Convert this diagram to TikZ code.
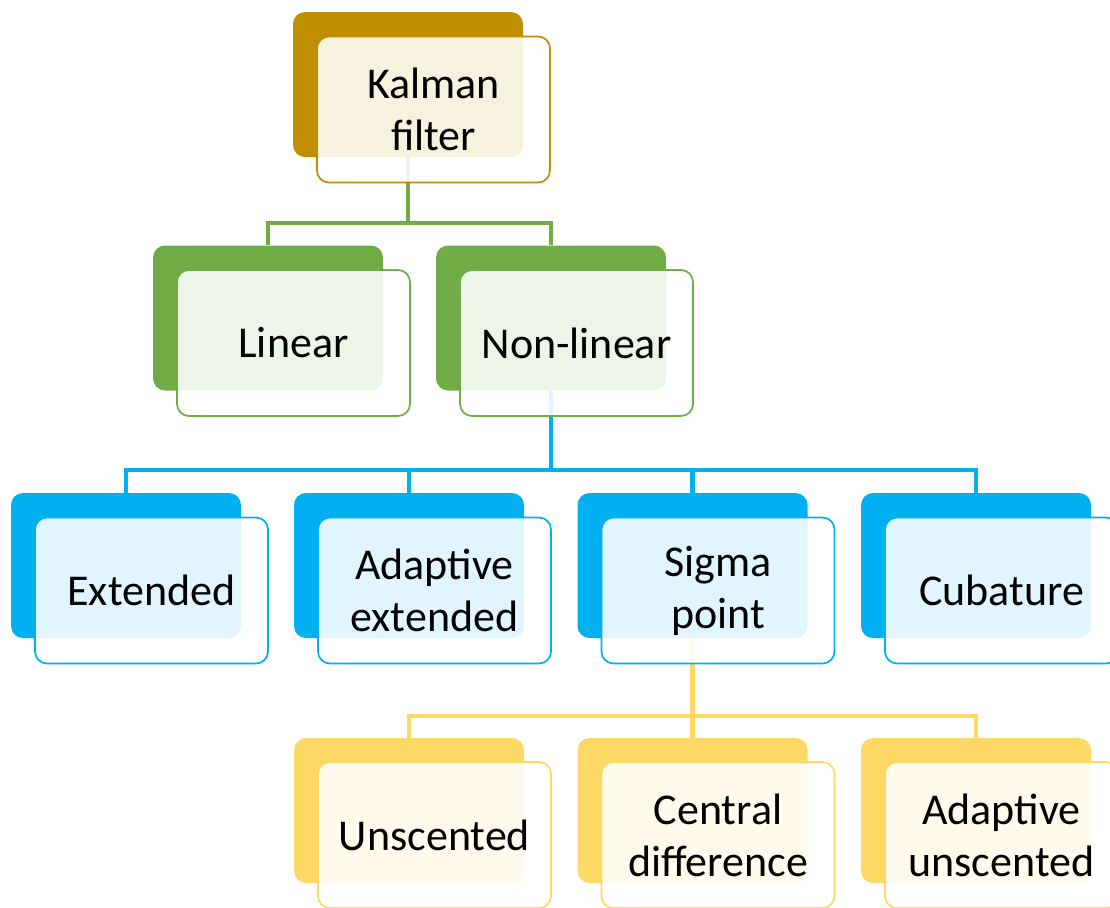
\documentclass[tikz,border=0pt]{standalone}
\usepackage{fontspec}
\setmainfont{Carlito}
\usetikzlibrary{backgrounds}
\definecolor{cgold}{HTML}{BF8F00}
\definecolor{cgreen}{HTML}{70AD47}
\definecolor{cblue}{HTML}{00B0F0}
\definecolor{cyellow}{HTML}{FFD966}
\tikzset{
  backbox/.style={draw=none, fill=#1, rounded corners=9pt, inner sep=0pt,
    minimum width=172.5pt, minimum height=108.75pt},
  frontbox/.style={draw=#1, line width=1.3pt, fill=white, fill opacity=0.88, text opacity=1,
    rounded corners=9pt, inner sep=0pt, minimum width=174.75pt, minimum height=109.5pt,
    align=center, font=\fontsize{33pt}{39pt}\selectfont, text=black},
  conn/.style={draw=#1, line width=3.6pt}
}
\begin{document}
\begin{tikzpicture}[x=0.75pt, y=-0.75pt]
\useasboundingbox (0,0) rectangle (1110,907);
% level 1
\node[backbox=cgold] (kb) at (408,84.5) {};
\node[frontbox=cgold] (kf) at (433.5,109.5) {Kalman\\filter};
% level 2
\node[backbox=cgreen] (lb) at (268,318) {};
\node[frontbox=cgreen] (lf) at (293.5,343) {Linear};
\node[backbox=cgreen] (nb) at (551,318) {};
\node[frontbox=cgreen] (nf) at (576.5,343) {Non-linear};
% level 3
\node[backbox=cblue] (eb) at (126,565.5) {};
\node[frontbox=cblue] (ef) at (151.5,590.5) {Extended};
\node[backbox=cblue] (ab) at (409,565.5) {};
\node[frontbox=cblue] (af) at (434.5,590.5) {Adaptive\\extended};
\node[backbox=cblue] (sb) at (692.5,565.5) {};
\node[frontbox=cblue] (sf) at (718,590.5) {Sigma\\point};
\node[backbox=cblue] (cb) at (976,565.5) {};
\node[frontbox=cblue] (cf) at (1001.5,590.5) {Cubature};
% level 4
\node[backbox=cyellow] (ub) at (409,810.5) {};
\node[frontbox=cyellow] (uf) at (434.5,835) {Unscented};
\node[backbox=cyellow] (db) at (692.5,810.5) {};
\node[frontbox=cyellow] (df) at (718,835) {Central\\difference};
\node[backbox=cyellow] (vb) at (976,810.5) {};
\node[frontbox=cyellow] (vf) at (1001.5,835) {Adaptive\\unscented};
% connectors
\begin{scope}[on background layer]
\coordinate (j1) at (408,223);
\coordinate (j2) at (551,470);
\coordinate (j3) at (692.5,716);
\draw[conn=cgreen] (kb.south) -- (j1);
\draw[conn=cgreen] (j1) -| (lb.north);
\draw[conn=cgreen] (j1) -| (nb.north);
\draw[conn=cblue] (nb.south) -- (j2);
\draw[conn=cblue] (j2) -| (eb.north);
\draw[conn=cblue] (j2) -| (ab.north);
\draw[conn=cblue] (j2) -| (sb.north);
\draw[conn=cblue] (j2) -| (cb.north);
\draw[conn=cyellow] (sb.south) -- (j3);
\draw[conn=cyellow] (j3) -| (ub.north);
\draw[conn=cyellow] (j3) -| (db.north);
\draw[conn=cyellow] (j3) -| (vb.north);
\end{scope}
\end{tikzpicture}
\end{document}
